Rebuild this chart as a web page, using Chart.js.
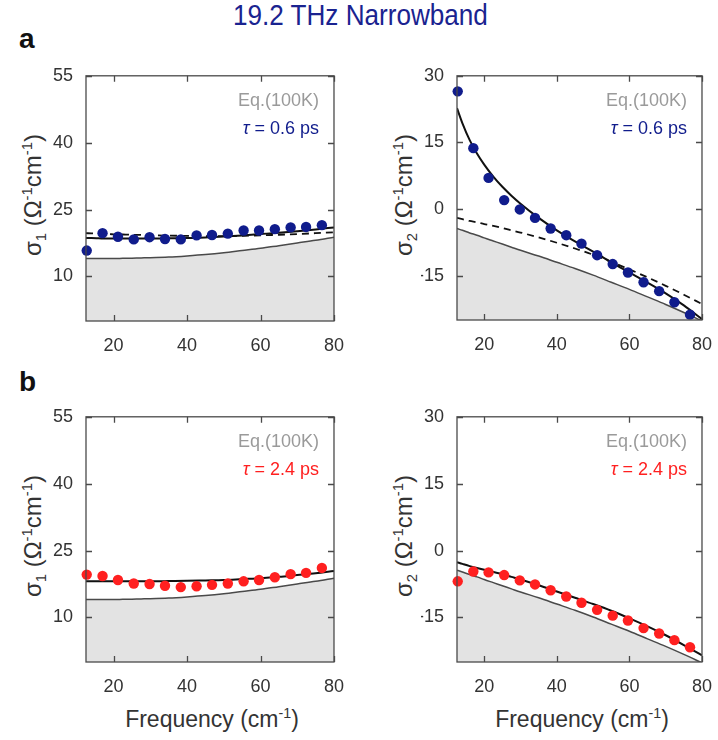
<!DOCTYPE html>
<html>
<head>
<meta charset="utf-8">
<script src="https://cdn.jsdelivr.net/npm/chart.js@4.4.1/dist/chart.umd.min.js"></script>
<style>
  body { margin: 0; background: #fff; font-family: 'Liberation Sans', Arial, sans-serif; }
  #page { position: relative; width: 718px; height: 740px; overflow: hidden; }
  canvas { position: absolute; }
  .lbl { position: absolute; white-space: nowrap; line-height: 1; color: #333; }
  .ytitle { font-size: 24px; transform-origin: 0 0; transform: rotate(-90deg) translate(-50%, -50%); }
  .xtitle { font-size: 23px; transform: translateX(-50%); }
  .lbl sup { font-size: 0.62em; vertical-align: 0.6em; line-height: 0; }
  .lbl sub { font-size: 0.62em; vertical-align: -0.35em; line-height: 0; }
</style>
</head>
<body>
<div id="page">
  <div class="lbl" style="left:233px; top:1px; font-size:29px; color:#1a2390; transform-origin:0 0; transform:scaleX(0.9);">19.2 THz Narrowband</div>
  <div class="lbl" style="left:19px; top:25px; font-size:28px; font-weight:bold; color:#111;">a</div>
  <div class="lbl" style="left:19px; top:368px; font-size:28px; font-weight:bold; color:#111;">b</div>

  <div class="lbl ytitle" style="left:33px; top:195px;">σ<sub>1</sub> (Ω<sup>-1</sup>cm<sup>-1</sup>)</div>
  <div class="lbl ytitle" style="left:404px; top:195px;">σ<sub>2</sub> (Ω<sup>-1</sup>cm<sup>-1</sup>)</div>
  <div class="lbl ytitle" style="left:33px; top:536px;">σ<sub>1</sub> (Ω<sup>-1</sup>cm<sup>-1</sup>)</div>
  <div class="lbl ytitle" style="left:404px; top:536px;">σ<sub>2</sub> (Ω<sup>-1</sup>cm<sup>-1</sup>)</div>

  <div class="lbl xtitle" style="left:212px; top:708px;">Frequency (cm<sup>-1</sup>)</div>
  <div class="lbl xtitle" style="left:582px; top:708px;">Frequency (cm<sup>-1</sup>)</div>

  <canvas id="c1" width="300" height="300" style="left:50px; top:60px;"></canvas>
  <canvas id="c2" width="297" height="299" style="left:421px; top:60px;"></canvas>
  <canvas id="c3" width="300" height="300" style="left:50px; top:401px;"></canvas>
  <canvas id="c4" width="297" height="300" style="left:421px; top:401px;"></canvas>
</div>

<script>
// measured points (frequency in cm-1)
const ptFreq = [12.7, 17.0, 21.2, 25.5, 29.8, 34.0, 38.3, 42.6, 46.8, 51.1, 55.4, 59.6, 63.9, 68.2, 72.4, 76.7];
const s1Tau06 = [15.8, 19.7, 18.9, 18.3, 18.8, 18.4, 18.3, 19.2, 19.3, 19.6, 20.3, 20.3, 20.6, 21.0, 21.1, 21.5];
const s2Tau06 = [26.5, 13.7, 7.0, 2.0, -0.1, -2.0, -4.4, -5.9, -7.8, -10.4, -12.4, -14.3, -16.5, -18.5, -21.0, -23.8];
const s1Tau24 = [19.6, 19.3, 18.4, 17.6, 17.5, 17.1, 16.8, 17.0, 17.3, 17.6, 18.1, 18.4, 19.0, 19.7, 20.0, 21.1];
const s2Tau24 = [-6.9, -4.7, -4.9, -5.5, -6.7, -7.6, -8.9, -10.3, -11.7, -13.3, -14.6, -15.7, -17.4, -18.6, -20.1, -21.7];

// model curves
const curveFreq = [12.5, 14, 16, 18, 20, 22.5, 25, 27.5, 30, 35, 40, 45, 50, 55, 60, 65, 70, 75, 80];
const s1Fit06  = [18.6, 18.6, 18.55, 18.5, 18.5, 18.5, 18.5, 18.5, 18.5, 18.55, 18.6, 18.75, 18.95, 19.2, 19.5, 19.8, 20.15, 20.55, 21.0];
const s1Dash06 = [19.7, 19.65, 19.6, 19.5, 19.45, 19.4, 19.35, 19.3, 19.25, 19.15, 19.1, 19.05, 19.05, 19.1, 19.2, 19.35, 19.5, 19.7, 19.9];
const s2Fit06  = [22.7, 19.3, 15.5, 12.5, 10.0, 7.3, 5.0, 3.0, 1.2, -2.0, -4.8, -7.3, -9.6, -12.0, -14.3, -16.6, -19.0, -21.7, -24.8];
const s2Dash06 = [-2.0, -2.3, -2.7, -3.0, -3.4, -3.8, -4.3, -4.8, -5.3, -6.4, -7.6, -8.9, -10.3, -11.9, -13.6, -15.4, -17.3, -19.3, -21.4];
const s1Fit24  = [18.1, 18.1, 18.1, 18.1, 18.1, 18.1, 18.1, 18.1, 18.1, 18.15, 18.2, 18.3, 18.4, 18.6, 18.8, 19.1, 19.5, 19.9, 20.4];
const s2Fit24  = [-2.6, -3.0, -3.5, -3.9, -4.3, -4.8, -5.3, -5.9, -6.5, -7.8, -9.2, -10.6, -12.0, -13.5, -15.2, -17.0, -19.0, -21.2, -23.5];
const s1Eq100K = [14.0, 14.0, 14.0, 14.0, 14.0, 14.05, 14.1, 14.15, 14.2, 14.35, 14.6, 14.9, 15.3, 15.8, 16.3, 16.9, 17.5, 18.1, 18.8];
const s2Eq100K = [-4.4, -4.8, -5.4, -5.9, -6.5, -7.2, -7.9, -8.6, -9.3, -10.6, -12.0, -13.4, -14.9, -16.5, -18.1, -19.8, -21.5, -23.3, -25.2];

const xTicks = [20, 40, 60, 80];
const s1Ticks = [10, 25, 40, 55];
const s2Ticks = [-15, 0, 15, 30];

const FONT = "'Liberation Sans', Arial, sans-serif";
const NAVY = '#101c8c';
const RED = '#ff2020';

function pts(xs, ys) {
    return xs.map((x, i) => ({ x: x, y: ys[i] }))
}

// box frame with inward ticks + in-plot labels
const frame = {
    id: 'frame',
    afterDatasetsDraw(chart, args, opts) {
        const ctx = chart.ctx
        const a = chart.chartArea
        const xs = chart.scales.x, ys = chart.scales.y
        ctx.save()
        ctx.strokeStyle = '#4a4a4a'
        ctx.lineWidth = 1.3
        ctx.beginPath()
        xs.ticks.forEach(t => {
            const px = Math.round(xs.getPixelForValue(t.value)) + 0.5
            ctx.moveTo(px, a.bottom); ctx.lineTo(px, a.bottom - 6)
            ctx.moveTo(px, a.top); ctx.lineTo(px, a.top + 6)
        })
        ys.ticks.forEach(t => {
            const py = Math.round(ys.getPixelForValue(t.value)) + 0.5
            ctx.moveTo(a.left, py); ctx.lineTo(a.left + 6, py)
            ctx.moveTo(a.right, py); ctx.lineTo(a.right - 6, py)
        })
        ctx.stroke()
        ctx.strokeRect(a.left, a.top, a.right - a.left, a.bottom - a.top)

        // labels
        const rx = a.right - 15
        ctx.textAlign = 'right'
        ctx.textBaseline = 'alphabetic'
        ctx.font = '18px ' + FONT
        ctx.fillStyle = '#9a9a9a'
        ctx.fillText('Eq.(100K)', rx, a.top + 30)
        ctx.fillStyle = opts.color
        const rest = ' = ' + opts.tau + ' ps'
        ctx.fillText(rest, rx, a.top + 58)
        const w = ctx.measureText(rest).width
        ctx.font = 'italic 18px ' + FONT
        ctx.fillText('τ', rx - w, a.top + 58)
        ctx.restore()
    }
}

function makeChart(id, cfg) {
    const datasets = [
        {
            data: pts(ptFreq, cfg.points), showLine: false, order: 0, clip: false,
            pointRadius: 5.2, pointBackgroundColor: cfg.color, pointBorderWidth: 0
        },
        {
            data: pts(curveFreq, cfg.fit), order: 1, borderColor: '#111', borderWidth: 2,
            pointRadius: 0, cubicInterpolationMode: 'monotone', fill: false
        },
        {
            data: pts(curveFreq, cfg.eq), order: 3, borderColor: '#4a4a4a', borderWidth: 1.5,
            pointRadius: 0, cubicInterpolationMode: 'monotone', fill: 'start', backgroundColor: '#e3e3e3'
        }
    ]
    if (cfg.dash) {
        datasets.push({
            data: pts(curveFreq, cfg.dash), order: 2, borderColor: '#111', borderWidth: 1.8,
            borderDash: [7, 5], pointRadius: 0, cubicInterpolationMode: 'monotone', fill: false
        })
    }
    const tickFont = { family: FONT, size: 18 }
    return new Chart(document.getElementById(id), {
        type: 'line',
        data: { datasets: datasets },
        options: {
            responsive: false,
            animation: false,
            layout: { padding: { top: 9, right: cfg.padR } },
            plugins: {
                legend: { display: false },
                tooltip: { enabled: false },
                frame: { color: cfg.color, tau: cfg.tau }
            },
            scales: {
                x: {
                    type: 'linear', min: 12.5, max: 80,
                    grid: { display: false }, border: { display: false },
                    ticks: { font: tickFont, color: '#333', padding: 6, maxRotation: 0, autoSkip: false },
                    afterBuildTicks: s => { s.ticks = xTicks.map(v => ({ value: v })) },
                    afterFit: s => { s.height = 39 }
                },
                y: {
                    min: cfg.yMin, max: cfg.yMax,
                    grid: { display: false }, border: { display: false },
                    ticks: { font: tickFont, color: '#333', padding: 5 },
                    afterBuildTicks: s => { s.ticks = cfg.yTicks.map(v => ({ value: v })) },
                    afterFit: s => { s.width = 36 }
                }
            }
        },
        plugins: [frame]
    })
}

makeChart('c1', { points: s1Tau06, fit: s1Fit06, dash: s1Dash06, eq: s1Eq100K, color: NAVY, tau: '0.6', yMin: 0, yMax: 55, yTicks: s1Ticks, padR: 14 })
makeChart('c2', { points: s2Tau06, fit: s2Fit06, dash: s2Dash06, eq: s2Eq100K, color: NAVY, tau: '0.6', yMin: -25, yMax: 30, yTicks: s2Ticks, padR: 12 })
makeChart('c3', { points: s1Tau24, fit: s1Fit24, eq: s1Eq100K, color: RED, tau: '2.4', yMin: 0, yMax: 55, yTicks: s1Ticks, padR: 14 })
makeChart('c4', { points: s2Tau24, fit: s2Fit24, eq: s2Eq100K, color: RED, tau: '2.4', yMin: -25, yMax: 30, yTicks: s2Ticks, padR: 12 })
</script>
</body>
</html>
